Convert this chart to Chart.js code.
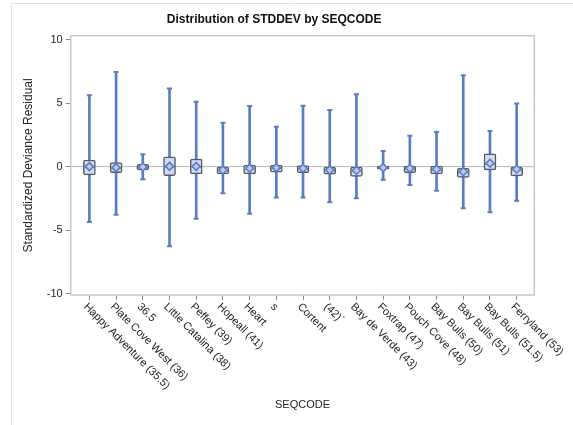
<!DOCTYPE html>
<html>
<head>
<meta charset="utf-8">
<script src="https://cdn.jsdelivr.net/npm/chart.js@4/dist/chart.umd.min.js"></script>
<style>
  html, body { margin: 0; padding: 0; background: #fff; }
  #wrap { width: 573px; height: 425px; }
</style>
</head>
<body>
<div id="wrap"><canvas id="boxChart" width="573" height="425"></canvas></div>
<script>
// categories and box plot statistics
const categories = ['Happy Adventure (35.5)', 'Plate Cove West (36)', '36.5', 'Little Catalina (38)',
    'Peffey (39)', 'Hopeall (41)', 'Heart', 's', 'Cortent', '(42)`', 'Bay de Verde (43)',
    'Foxtrap (47)', 'Pouch Cove (48)', 'Bay Bulls (50)', 'Bay Bulls (51)', 'Bay Bulls (51.5)', 'Ferryland (53)'];
const whiskerLow  = [-4.36, -3.79, -0.99, -6.27, -4.10, -2.09, -3.71, -2.43, -2.43, -2.80, -2.48, -1.04, -1.44, -1.90, -3.27, -3.58, -2.69];
const whiskerHigh = [5.62, 7.45, 0.97, 6.15, 5.10, 3.45, 4.76, 3.14, 4.78, 4.45, 5.70, 1.23, 2.43, 2.72, 7.19, 2.80, 4.97];
const q1 = [-0.65, -0.47, -0.26, -0.71, -0.57, -0.57, -0.57, -0.44, -0.47, -0.60, -0.78, -0.20, -0.47, -0.57, -0.84, -0.26, -0.73];
const q3 = [0.52, 0.31, 0.19, 0.78, 0.60, 0.00, 0.13, 0.13, 0.08, 0.00, 0.00, 0.05, 0.05, 0.05, -0.13, 1.00, 0.00];
const medians = [-0.05, -0.12, -0.06, -0.03, -0.03, -0.30, -0.18, -0.12, -0.18, -0.30, -0.35, -0.10, -0.18, -0.25, -0.45, 0.20, -0.25];
const means = [0.00, -0.08, -0.03, 0.02, 0.02, -0.26, -0.13, -0.08, -0.13, -0.26, -0.30, -0.08, -0.13, -0.20, -0.40, 0.27, -0.20];
const yTicks = [-10, -5, 0, 5, 10];
const refLineValue = 0;

const blue = '#5b7cc3';

// frame round the plot area, the zero line and the slanted category labels
const decorPlugin = {
    id: 'decor',
    beforeDraw(chart) {
        const ctx = chart.ctx;
        ctx.save();
        ctx.strokeStyle = '#e2e2e2';
        ctx.lineWidth = 1;
        ctx.beginPath();
        ctx.moveTo(11.5, 425);
        ctx.lineTo(11.5, 3.5);
        ctx.lineTo(573, 3.5);
        ctx.stroke();
        ctx.restore();
    },
    beforeDatasetsDraw(chart) {
        const {ctx, chartArea} = chart;
        const y0 = chart.scales.y.getPixelForValue(refLineValue);
        ctx.save();
        ctx.strokeStyle = '#b4b4b4';
        ctx.lineWidth = 1;
        ctx.beginPath();
        ctx.moveTo(chartArea.left, y0);
        ctx.lineTo(chartArea.right, y0);
        ctx.stroke();
        ctx.strokeStyle = '#c8c8c8';
        ctx.lineWidth = 1.5;
        ctx.strokeRect(chartArea.left, chartArea.top, chartArea.right - chartArea.left, chartArea.bottom - chartArea.top);
        ctx.restore();
    },
    afterDraw(chart) {
        const ctx = chart.ctx;
        const xs = chart.scales.x;
        ctx.save();
        ctx.font = '11px "Liberation Sans", Arial, sans-serif';
        ctx.fillStyle = '#222';
        ctx.textAlign = 'left';
        ctx.textBaseline = 'middle';
        categories.forEach((label, i) => {
            const px = xs.getPixelForValue(i);
            ctx.save();
            ctx.translate(px - 4, xs.top + 10);
            ctx.rotate(Math.PI / 4);
            ctx.fillText(label, 0, 0);
            ctx.restore();
        });
        ctx.restore();
    }
};

const idx = categories.map((c, i) => i);

new Chart(document.getElementById('boxChart').getContext('2d'), {
    type: 'bar',
    data: {
        datasets: [
            {
                label: 'whisker',
                data: idx.map(i => ({x: i, y: [whiskerLow[i], whiskerHigh[i]]})),
                backgroundColor: blue,
                barThickness: 2,
                grouped: false,
                order: 5
            },
            {
                label: 'caps',
                type: 'scatter',
                data: idx.map(i => ({x: i, y: whiskerLow[i]})).concat(idx.map(i => ({x: i, y: whiskerHigh[i]}))),
                pointStyle: 'line',
                pointRadius: 2.5,
                borderColor: blue,
                borderWidth: 2,
                order: 4
            },
            {
                label: 'box',
                data: idx.map(i => ({x: i, y: [q1[i], q3[i]]})),
                backgroundColor: '#d3dbec',
                borderColor: '#555a66',
                borderWidth: 1.5,
                borderSkipped: false,
                borderRadius: 2,
                barThickness: 12,
                grouped: false,
                order: 3
            },
            {
                label: 'median',
                type: 'scatter',
                data: idx.map(i => ({x: i, y: medians[i]})),
                pointStyle: 'line',
                pointRadius: 5,
                borderColor: blue,
                borderWidth: 1.5,
                order: 2
            },
            {
                label: 'mean',
                type: 'scatter',
                data: idx.map(i => ({x: i, y: means[i]})),
                pointStyle: 'rectRot',
                pointRadius: 4,
                backgroundColor: '#b9cbee',
                borderColor: blue,
                borderWidth: 1.5,
                order: 1
            }
        ]
    },
    options: {
        responsive: false,
        animation: false,
        layout: { padding: { left: 14, right: 38.7, top: 0, bottom: 0 } },
        plugins: {
            legend: { display: false },
            tooltip: { enabled: false },
            title: {
                display: true,
                text: 'Distribution of STDDEV by SEQCODE',
                color: '#111',
                font: { family: '"Liberation Sans", Arial, sans-serif', size: 12, weight: 'bold' },
                padding: { top: 12, bottom: 9.3 }
            }
        },
        scales: {
            x: {
                type: 'linear',
                offset: false,
                min: -0.7,
                max: 16.66,
                afterBuildTicks: scale => { scale.ticks = idx.map(i => ({value: i})); },
                afterFit: scale => { scale.height = 130; },
                grid: { offset: false, drawOnChartArea: false, drawTicks: true, tickLength: 5, color: '#8a8a8a' },
                border: { display: false },
                ticks: { display: false },
                title: {
                    display: true,
                    text: 'SEQCODE',
                    color: '#222',
                    font: { family: '"Liberation Sans", Arial, sans-serif', size: 11 },
                    padding: { top: 0, bottom: 13.4 }
                }
            },
            y: {
                type: 'linear',
                min: -10.1,
                max: 10.3,
                afterBuildTicks: scale => { scale.ticks = yTicks.map(v => ({value: v})); },
                afterFit: scale => { scale.width = 56.7; },
                grid: { drawOnChartArea: false, drawTicks: true, tickLength: 5, color: '#8a8a8a' },
                border: { display: false },
                ticks: {
                    color: '#222',
                    padding: 3,
                    font: { family: '"Liberation Sans", Arial, sans-serif', size: 11 }
                },
                title: {
                    display: true,
                    text: 'Standardized Deviance Residual',
                    color: '#222',
                    font: { family: '"Liberation Sans", Arial, sans-serif', size: 12 },
                    padding: { top: 7.5, bottom: 0 }
                }
            }
        }
    },
    plugins: [decorPlugin]
});
</script>
</body>
</html>
